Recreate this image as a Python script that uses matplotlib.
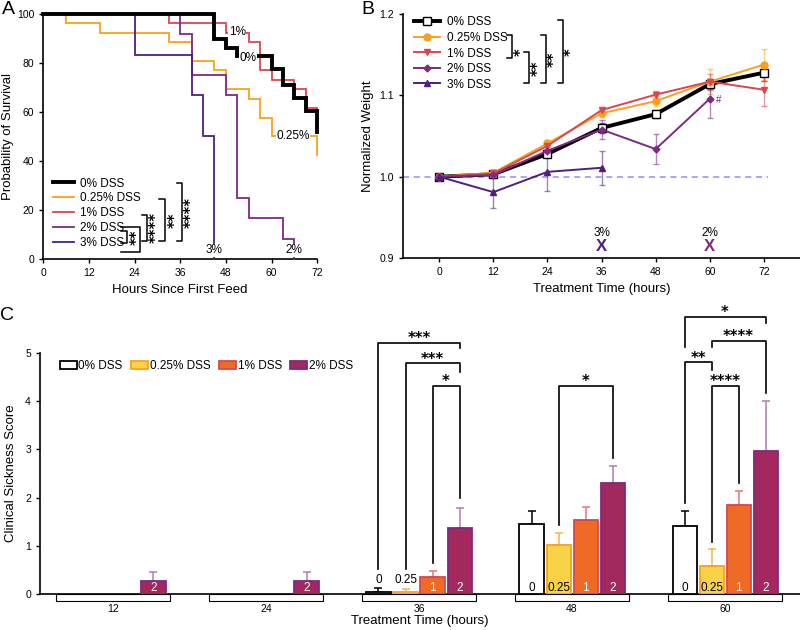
import numpy as np
import matplotlib.pyplot as plt
from matplotlib.patches import Rectangle, Patch
from matplotlib.lines import Line2D

plt.rcParams['font.family'] = ['Liberation Sans', 'DejaVu Sans']
plt.rcParams['axes.linewidth'] = 1.2
plt.rcParams['xtick.major.width'] = 1.0
plt.rcParams['ytick.major.width'] = 1.0
plt.rcParams['xtick.major.size'] = 3
plt.rcParams['ytick.major.size'] = 3
plt.rcParams['xtick.labelsize'] = 7.5
plt.rcParams['ytick.labelsize'] = 7.5

# ---------------- data ----------------
group_names = ['0% DSS', '0.25% DSS', '1% DSS', '2% DSS', '3% DSS']
group_colors = ['black', '#F9A11B', '#DC4650', '#7E2A83', '#4E1F80']

# A: Kaplan-Meier survival (hours, % surviving)
surv_t_0 = [0, 45, 48, 51, 60, 63, 66, 69, 72]
surv_p_0 = [100, 89.7, 86.2, 82.8, 77.5, 71.0, 65.5, 60.5, 51.7]
surv_t_025 = [0, 6, 15, 33, 39, 45, 48, 54, 57, 60, 72]
surv_p_025 = [100, 96.2, 92.3, 88.5, 80.8, 76.9, 69.2, 65.4, 57.7, 50.0, 42.3]
surv_t_1 = [0, 33, 48, 54, 57, 60, 66, 69, 72]
surv_p_1 = [100, 96.2, 92.3, 88.5, 76.9, 73.1, 69.2, 61.5, 57.7]
surv_t_2 = [0, 36, 39, 48, 51, 54, 63, 66]
surv_p_2 = [100, 91.7, 75.0, 66.7, 25.0, 16.7, 8.3, 0]
surv_t_3 = [0, 24, 39, 42, 45]
surv_p_3 = [100, 83.3, 66.7, 50.0, 0]

# B: normalized weight
wt_hours = [0, 12, 24, 36, 48, 60, 72]
wt_0 = [1.000, 1.003, 1.028, 1.060, 1.077, 1.114, 1.128]
wt_0_err = [0, 0.003, 0.004, 0.006, 0.005, 0.006, 0.010]
wt_025 = [1.000, 1.005, 1.041, 1.078, 1.093, 1.117, 1.138]
wt_025_err = [0, 0.003, 0.004, 0.005, 0.006, 0.015, 0.019]
wt_1 = [1.000, 1.004, 1.038, 1.082, 1.101, 1.117, 1.107]
wt_1_err = [0, 0.003, 0.004, 0.004, 0.005, 0.010, 0.020]
wt_2 = [1.000, 1.002, 1.032, 1.058, 1.034, 1.096]
wt_2_err = [0, 0.003, 0.005, 0.012, 0.018, 0.024]
wt_3 = [1.000, 0.981, 1.006, 1.011]
wt_3_err = [0, 0.019, 0.024, 0.021]

# C: clinical sickness score
score_hours = ['12', '24', '36', '48', '60']
score_names = ['0% DSS', '0.25% DSS', '1% DSS', '2% DSS']
score_short = ['0', '0.25', '1', '2']
score_0 = [0, 0, 0.04, 1.45, 1.42]
score_0_err = [0, 0, 0.08, 0.28, 0.30]
score_025 = [0, 0, 0.04, 1.02, 0.59]
score_025_err = [0, 0, 0.07, 0.25, 0.34]
score_1 = [0, 0, 0.36, 1.53, 1.84]
score_1_err = [0, 0, 0.12, 0.28, 0.29]
score_2 = [0.26, 0.26, 1.38, 2.31, 2.97]
score_2_err = [0.20, 0.20, 0.41, 0.35, 1.03]

fig = plt.figure(figsize=(8, 6.3), dpi=100)

def style_ax(ax):
    ax.spines['top'].set_visible(False)
    ax.spines['right'].set_visible(False)
    ax.tick_params(direction='out')

STAR_FONT = dict(family='DejaVu Sans', fontweight='bold', fontsize=10.5)

def bracket(ax, xs, ys):
    ax.plot(xs, ys, color='black', lw=1.1, clip_on=False, zorder=8)

def vstars(ax, x, y, s):
    ax.text(x, y, s, rotation=90, ha='left', va='center', zorder=9, **STAR_FONT)

# ---------------- panel A ----------------
axA = fig.add_axes([0.054, 0.589, 0.3425, 0.389])
style_ax(axA)
surv = [(surv_t_0, surv_p_0), (surv_t_025, surv_p_025), (surv_t_1, surv_p_1),
        (surv_t_2, surv_p_2), (surv_t_3, surv_p_3)]
lws = [2.8, 1.3, 1.3, 1.3, 1.3]
zs = [6, 4, 3, 5, 5]
for (t, p), c, lw, z, name in zip(surv, group_colors, lws, zs, group_names):
    axA.plot(t, p, drawstyle='steps-post', color=c, lw=lw, zorder=z,
             clip_on=False, label=name, solid_joinstyle='miter')
axA.set_xlim(0, 72)
axA.set_ylim(0, 100)
axA.set_xticks(range(0, 73, 12))
axA.set_yticks(range(0, 101, 20))
axA.set_xlabel('Hours Since First Feed', fontsize=9.5)
axA.set_ylabel('Probability of Survival', fontsize=9.5, labelpad=2)
leg_handles = [Line2D([], [], color=c, lw=lw) for c, lw in zip(group_colors, lws)]
axA.legend(leg_handles, group_names, loc='lower left', bbox_to_anchor=(0.015, 0.015),
           frameon=False, fontsize=8.5, handlelength=1.8, handletextpad=0.5,
           labelspacing=0.25, borderpad=0)

end_labels = [('1%', 51, 92.4), ('0%', 53.9, 81.8), ('0.25%', 65.7, 50.0),
              ('3%', 45, 3.6), ('2%', 66, 3.6)]
for txt, x, y in end_labels:
    axA.text(x, y, txt, fontsize=8.5, ha='center', va='center', zorder=10,
             bbox=dict(facecolor='white', edgecolor='none', pad=0.3))

bracket(axA, [20.4, 25.5, 25.5, 20.4], [13.1, 13.1, 2.9, 2.9])
bracket(axA, [20.4, 22.0, 22.0, 20.4], [11.3, 11.3, 6.5, 6.5])
vstars(axA, 22.6, 8.9, '**')
bracket(axA, [25.9, 27.2, 27.2, 25.9], [18.1, 18.1, 7.4, 7.4])
vstars(axA, 27.8, 12.75, '****')
bracket(axA, [30.5, 32.0, 32.0, 30.5], [24.3, 24.3, 7.4, 7.4])
vstars(axA, 32.6, 15.9, '**')
bracket(axA, [35.1, 36.4, 36.4, 35.1], [30.8, 30.8, 7.4, 7.4])
vstars(axA, 37.0, 19.1, '****')

# ---------------- panel B ----------------
axB = fig.add_axes([0.504, 0.5905, 0.496, 0.387])
style_ax(axB)
axB.plot([-8, 73], [1, 1], color='#8F8FF5', lw=1.1, dashes=(4, 3), zorder=1)
wt_series = [(wt_0, wt_0_err, 's', 5.5, 2.8), (wt_025, wt_025_err, 'o', 5, 1.4),
             (wt_1, wt_1_err, 'v', 5, 1.4), (wt_2, wt_2_err, 'D', 3.5, 1.4),
             (wt_3, wt_3_err, '^', 5, 1.4)]
b_handles = []
for (vals, err, mk, ms, lw), c, name in zip(wt_series, group_colors, group_names):
    x = wt_hours[:len(vals)]
    mfc = 'white' if c == 'black' else c
    axB.errorbar(x, vals, yerr=err, fmt='none', ecolor=c, alpha=0.55,
                 elinewidth=1, capsize=2.5, zorder=2)
    axB.plot(x, vals, color=c, lw=lw, marker=mk, ms=ms, mfc=mfc, mec=c,
             mew=1.0, zorder=3)
    b_handles.append(Line2D([], [], color=c, lw=lw, marker=mk, ms=ms, mfc=mfc,
                            mec=c, mew=1.0))
axB.set_xlim(-8, 80)
axB.set_ylim(0.9, 1.2)
axB.set_xticks(range(0, 73, 12))
axB.set_yticks([0.9, 1.0, 1.1, 1.2])
axB.set_yticklabels(['0.9', '1.0', '1.1', '1.2'])
axB.set_xlabel('Treatment Time (hours)', fontsize=9.5)
axB.set_ylabel('Normalized Weight', fontsize=9.5, labelpad=4)
axB.legend(b_handles, group_names, loc='upper left', bbox_to_anchor=(0.012, 1.015),
           frameon=False, fontsize=8.5, handlelength=2.2, handletextpad=0.6,
           labelspacing=0.3, borderpad=0)

axB.text(62, 1.094, '#', color=group_colors[3], fontsize=7, ha='center', va='center')
for hx, lab, c in [(36, '3%', group_colors[4]), (60, '2%', group_colors[3])]:
    axB.text(hx, 0.9306, lab, fontsize=8.5, ha='center', va='center')
    axB.text(hx, 0.9138, 'X', fontsize=12, fontweight='bold', color=c,
             ha='center', va='center')

bracket(axB, [15.1, 16.2, 16.2, 15.1], [1.174, 1.174, 1.1455, 1.1455])
vstars(axB, 16.4, 1.1536, '*')
bracket(axB, [18.8, 20.0, 20.0, 18.8], [1.1536, 1.1536, 1.1155, 1.1155])
vstars(axB, 20.2, 1.1336, '**')
bracket(axB, [22.5, 23.6, 23.6, 22.5], [1.174, 1.174, 1.1155, 1.1155])
vstars(axB, 23.8, 1.1443, '**')
bracket(axB, [26.4, 27.4, 27.4, 26.4], [1.1926, 1.1926, 1.1155, 1.1155])
vstars(axB, 27.6, 1.1536, '*')

# ---------------- panel C ----------------
axC = fig.add_axes([0.05, 0.0571, 0.95, 0.3825])
style_ax(axC)
score_vals = [score_0, score_025, score_1, score_2]
score_errs = [score_0_err, score_025_err, score_1_err, score_2_err]
bar_fill = ['white', '#F8D247', '#EE6B25', '#A2285E']
bar_edge = ['black', '#F9A11B', '#DC4650', '#7E2A83']
err_col = ['black', '#FBB34A', '#E8747A', '#B37AB5']
txt_col = ['black', 'black', 'white', 'white']
gx = np.arange(len(score_hours))
bw = 0.157
step = 0.1765
for i in range(4):
    xs = gx + (i - 1.5) * step
    vals = np.array(score_vals[i])
    errs = np.array(score_errs[i])
    keep = vals > 0
    axC.bar(xs[keep], vals[keep], width=bw, color=bar_fill[i], edgecolor=bar_edge[i],
            linewidth=1.3, zorder=3)
    axC.errorbar(xs[keep], vals[keep], yerr=[np.zeros(keep.sum()), errs[keep]],
                 fmt='none', ecolor=err_col[i], elinewidth=1.1, capsize=3.2,
                 capthick=1.1, zorder=2)
    for x, v, e in zip(xs[keep], vals[keep], errs[keep]):
        if v < 0.15:
            axC.text(x, 0.29, score_short[i], fontsize=8.5, ha='center',
                     va='center', color='black', zorder=5)
        else:
            axC.text(x, 0.13, score_short[i], fontsize=8.5, ha='center',
                     va='center', color=txt_col[i], zorder=5)

axC.set_xlim(-0.477, 4.49)
axC.set_ylim(0, 5)
axC.set_yticks(range(0, 6))
axC.set_xticks(gx)
axC.set_xticklabels(score_hours, fontsize=7.5)
axC.tick_params(axis='x', length=0, pad=7)
axC.set_xlabel('Treatment Time (hours)', fontsize=9.5, labelpad=1)
axC.set_ylabel('Clinical Sickness Score', fontsize=9.5, labelpad=6)
for g in gx:
    axC.add_patch(Rectangle((g - 0.3725, -0.029), 0.745, 0.029,
                            transform=axC.get_xaxis_transform(), facecolor='white',
                            edgecolor='black', lw=0.8, clip_on=False, zorder=1))

c_handles = [Patch(facecolor=f, edgecolor=e, lw=1.3) for f, e in zip(bar_fill, bar_edge)]
axC.legend(c_handles, score_names, loc='upper left', bbox_to_anchor=(0.018, 0.995),
           ncol=4, frameon=False, fontsize=8.5, handlelength=1.45, handleheight=0.75,
           handletextpad=0.15, columnspacing=0.7, borderpad=0)

# (group, bar_left, bar_right, line_y, left_end, right_end, stars)
c_brackets = [
    (2, 0, 3, 5.21, 0.52, 5.10, '***'),
    (2, 1, 3, 4.79, 0.52, 4.61, '***'),
    (2, 2, 3, 4.32, 0.64, 1.99, '*'),
    (3, 1, 3, 4.32, 1.43, 2.82, '*'),
    (4, 0, 3, 5.75, 5.12, 5.62, '*'),
    (4, 1, 3, 5.25, 5.12, 4.17, '****'),
    (4, 0, 1, 4.81, 1.89, 4.65, '**'),
    (4, 1, 2, 4.32, 1.08, 2.30, '****'),
]
for g, a, b, yl, ya, yb, s in c_brackets:
    xa = g + (a - 1.5) * step
    xb = g + (b - 1.5) * step
    axC.plot([xa, xa, xb, xb], [ya, yl, yl, yb], color='black', lw=1.2,
             clip_on=False, zorder=6)
    axC.text((xa + xb) / 2, yl - 0.01, s, ha='center', va='baseline', zorder=7,
             clip_on=False, **STAR_FONT)

# panel letters
fig.text(0.003, 0.999, 'A', fontsize=14, va='top', ha='left')
fig.text(0.452, 0.999, 'B', fontsize=14, va='top', ha='left')
fig.text(0.0, 0.512, 'C', fontsize=14, va='top', ha='left')

fig.savefig('out.png', dpi=100)
